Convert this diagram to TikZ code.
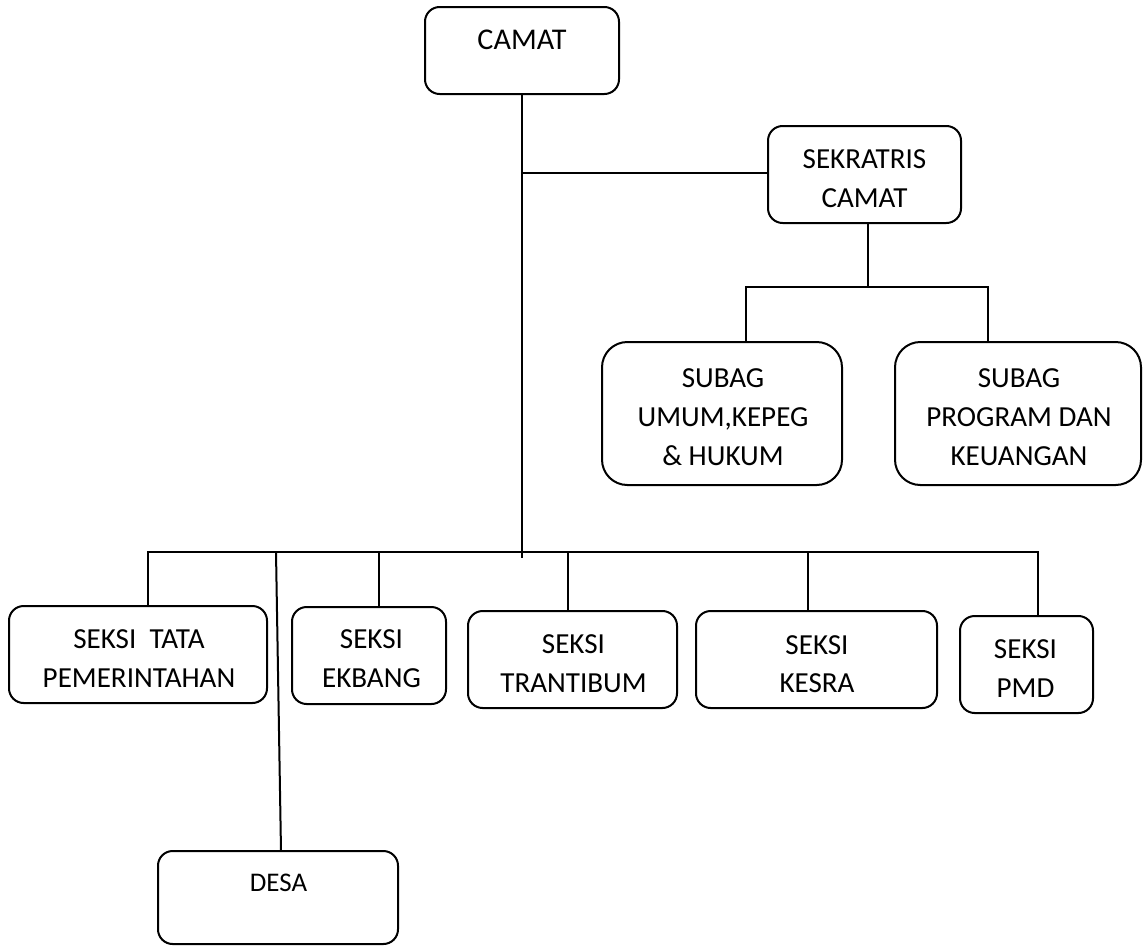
\documentclass[tikz,border=0pt]{standalone}
\usepackage{fontspec}
\setmainfont{Carlito}
\newcommand\mkbox[6][]{\node[box,#1, minimum width={(#4-#2)*0.75pt}, minimum height={(#5-#3)*0.75pt}] (#6) at ({(#2+#4)/2},{(#3+#5)/2}) {};}
\begin{document}
\begin{tikzpicture}[x=0.75pt,y=-0.75pt, line width=1.5pt,
  box/.style={draw, rounded corners=11pt, inner sep=0pt},
  bigbox/.style={rounded corners=19pt},
  txt/.style={align=center, inner sep=0pt, font=\fontsize{21.8}{29}\selectfont},
  toptxt/.style={align=center, inner sep=0pt, font=\fontsize{22.6}{29}\selectfont},
  smalltxt/.style={align=center, inner sep=0pt, font=\fontsize{20.2}{26}\selectfont}]
\useasboundingbox (0,0) rectangle (1144,946);
% boxes
\mkbox{425}{7}{619}{94}{camat}
\mkbox{768}{126}{961}{223}{sek}
\mkbox[bigbox]{602}{342}{842}{485}{sub1}
\mkbox[bigbox]{895}{342}{1141}{485}{sub2}
\mkbox{9}{606}{267}{703}{tata}
\mkbox{292}{607}{446}{704}{ekbang}
\mkbox{468}{611}{677}{708}{tran}
\mkbox{696}{611}{937}{708}{kesra}
\mkbox{960}{616}{1093}{713}{pmd}
\mkbox{158}{851}{398}{944}{desa}
% texts
\node[toptxt] (tcamat) at (522,40) {CAMAT};
\node[txt] (tsek) at (864.5,178.5) {SEKRATRIS\\CAMAT};
\node[txt] (tsub1) at (723,417) {SUBAG\\UMUM,KEPEG\\\& HUKUM};
\node[txt] (tsub2) at (1019,417) {SUBAG\\PROGRAM DAN\\KEUANGAN};
\node[txt] (ttata) at (139,658.5) {SEKSI\ \ TATA\\PEMERINTAHAN};
\node[txt] (tekb) at (371.5,658.5) {SEKSI\\EKBANG};
\node[txt] (ttran) at (573.5,663.5) {SEKSI\\TRANTIBUM};
\node[txt] (tkes) at (817,664) {SEKSI\\KESRA};
\node[txt] (tpmd) at (1025.5,668.5) {SEKSI\\PMD};
\node[smalltxt] (tdesa) at (278.5,883) {DESA};
% coordinates
\coordinate (tick) at (522,558);
\coordinate (j1) at (522,173);
\coordinate (s1) at (868,287);
\coordinate (sbL) at (746,287);
\coordinate (sbR) at (988,287);
\coordinate (bL) at (148,552);
\coordinate (bR) at (1038,552);
\coordinate (e1) at (379,552);
\coordinate (e2) at (568,552);
\coordinate (e3) at (808,552);
\coordinate (d0) at (276,552);
\coordinate (d1) at (281,851);
% connectors
\draw (camat.south) -- (tick);
\draw (j1) -- (j1 -| sek.west);
\draw (s1 |- sek.south) -- (s1);
\draw (sbL |- sub1.north) -- (sbL) -- (sbR) -- (sbR |- sub2.north);
\draw (bL |- tata.north) -- (bL) -- (bR) -- (bR |- pmd.north);
\draw (e1) -- (e1 |- ekbang.north);
\draw (e2) -- (e2 |- tran.north);
\draw (e3) -- (e3 |- kesra.north);
\draw (d0) -- (d1);
\end{tikzpicture}
\end{document}
